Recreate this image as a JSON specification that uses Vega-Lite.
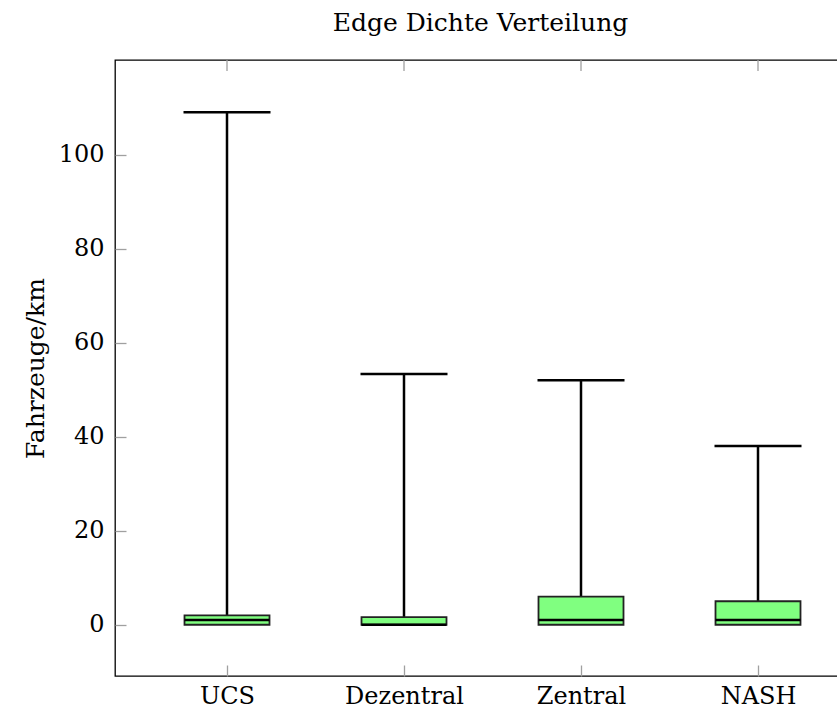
{
  "$schema": "https://vega.github.io/schema/vega-lite/v6.json",
  "autosize": "none",
  "padding": {"left": 115, "top": 60, "right": 0, "bottom": 39},
  "width": 731,
  "height": 616,
  "background": "white",
  "title": {
    "text": "Edge Dichte Verteilung",
    "font": "DejaVu Serif",
    "fontSize": 25,
    "fontWeight": "normal",
    "color": "black",
    "anchor": "middle",
    "dx": 0,
    "offset": 23
  },
  "config": {
    "view": {"stroke": "black", "strokeWidth": 1.3},
    "axis": {"grid": false}
  },
  "data": {
    "values": [
      {"cat": "UCS", "min": 0, "q1": 0, "median": 1.0, "q3": 2.0, "max": 109},
      {"cat": "Dezentral", "min": 0, "q1": 0, "median": 0.0, "q3": 1.6, "max": 53.3},
      {"cat": "Zentral", "min": 0, "q1": 0, "median": 1.0, "q3": 6.0, "max": 52},
      {"cat": "NASH", "min": 0, "q1": 0, "median": 1.0, "q3": 5.0, "max": 38}
    ]
  },
  "encoding": {
    "x": {
      "field": "cat",
      "type": "nominal",
      "sort": ["UCS", "Dezentral", "Zentral", "NASH"],
      "scale": {"type": "point", "padding": 0, "range": [112, 643]},
      "axis": {
        "title": null,
        "labelAngle": 0,
        "labelFont": "DejaVu Serif",
        "labelFontSize": 24,
        "labelColor": "black",
        "labelPadding": 19,
        "domain": false,
        "tickColor": "#a0a0a0",
        "tickSize": -11,
        "tickWidth": 1.3
      }
    }
  },
  "layer": [
    {
      "mark": {"type": "rule", "color": "black", "strokeWidth": 2.5},
      "encoding": {
        "y": {
          "field": "q3",
          "type": "quantitative",
          "scale": {"domain": [-10.9, 120.1], "nice": false, "zero": false},
          "axis": {
            "title": "Fahrzeuge/km",
            "titleFont": "DejaVu Serif",
            "titleFontSize": 25,
            "titleFontWeight": "normal",
            "titleColor": "black",
            "titlePadding": 10,
            "values": [0, 20, 40, 60, 80, 100],
            "labelFont": "DejaVu Serif",
            "labelFontSize": 24,
            "labelColor": "black",
            "labelPadding": 22,
            "domain": false,
            "tickColor": "#a0a0a0",
            "tickSize": -11,
            "tickWidth": 1.3
          }
        },
        "y2": {"field": "max"}
      }
    },
    {
      "mark": {"type": "tick", "color": "black", "thickness": 2.5, "size": 87, "opacity": 1},
      "encoding": {"y": {"field": "max", "type": "quantitative"}}
    },
    {
      "mark": {"type": "bar", "fill": "#80ff80", "stroke": "#222222", "strokeWidth": 1.8, "size": 85},
      "encoding": {
        "y": {"field": "q1", "type": "quantitative"},
        "y2": {"field": "q3"}
      }
    },
    {
      "mark": {"type": "tick", "color": "black", "thickness": 2.5, "size": 85, "opacity": 1},
      "encoding": {"y": {"field": "median", "type": "quantitative"}}
    },
    {
      "mark": {"type": "rule", "color": "#a0a0a0", "strokeWidth": 1.3},
      "encoding": {
        "y": {"datum": 120.1},
        "y2": {"datum": 117.76}
      }
    }
  ]
}
